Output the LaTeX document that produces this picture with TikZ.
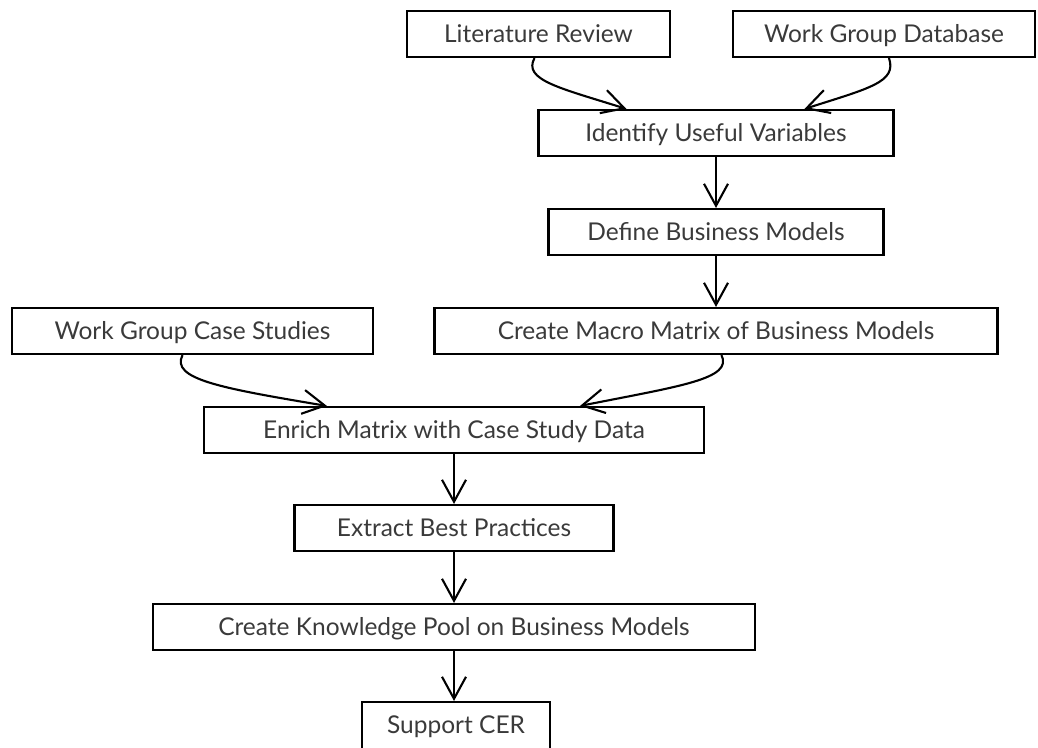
\documentclass[tikz,border=0pt]{standalone}
\usepackage{fontspec}
\setmainfont{Lato}
\usetikzlibrary{arrows.meta,calc}
\definecolor{txt}{HTML}{3A3A3A}
\tikzset{
  box/.style={draw=black, line width=2.1pt, rectangle, inner sep=0pt, text=txt,
    font=\fontsize{24.5}{28}\selectfont, minimum height=46pt, anchor=center,
    text height=19.5pt, text depth=2.5pt},
  conn/.style={line width=2.1pt, -{Straight Barb[length=22pt,width=24pt,line width=2.1pt]}},
}
\begin{document}
\begin{tikzpicture}[x=1pt,y=-1pt]
\useasboundingbox (0,0) rectangle (1038,747);
\clip (0,0) rectangle (1038,747);
\node[box, minimum width=263pt] (lit) at (538.5,34) {Literature Review};
\node[box, minimum width=302pt] (wgd) at (884,34) {Work Group Database};
\node[box, minimum width=355pt] (iuv) at (716,133) {Identify Useful Variables};
\node[box, minimum width=335pt] (dbm) at (716,232) {Define Business Models};
\node[box, minimum width=361pt] (wgcs) at (192.5,331) {Work Group Case Studies};
\node[box, minimum width=563pt] (cmm) at (716,331) {Create Macro Matrix of Business Models};
\node[box, minimum width=500pt] (emc) at (454,430) {Enrich Matrix with Case Study Data};
\node[box, minimum width=319pt] (ebp) at (454,528) {Extract Best Practices};
\node[box, minimum width=602pt] (ckp) at (454,627) {Create Knowledge Pool on Business Models};
\node[box, minimum width=188pt, minimum height=56pt] (cer) at (456,730) {\raisebox{5pt}{Support CER}};

\draw[conn] ($(lit.south)+(-4,0)$) .. controls +(-12,22) and (560,88) .. ($(iuv.north west)+(89,0)$);
\draw[conn] ($(wgd.south)+(5,0)$) .. controls +(8,24) and (870,88) .. ($(iuv.north west)+(267,0)$);
\draw[conn] (iuv.south) -- (dbm.north);
\draw[conn] (dbm.south) -- (cmm.north);
\draw[conn] ($(wgcs.south)+(-10,0)$) .. controls +(-12,24) and (220,388) .. ($(emc.north west)+(124,0)$);
\draw[conn] ($(cmm.south west)+(288,0)$) .. controls +(12,24) and (680,386) .. ($(emc.north west)+(377,0)$);
\draw[conn] (emc.south) -- (ebp.north);
\draw[conn] (ebp.south) -- (ckp.north);
\draw[conn] (ckp.south) -- (ckp.south |- cer.north);
\end{tikzpicture}
\end{document}
